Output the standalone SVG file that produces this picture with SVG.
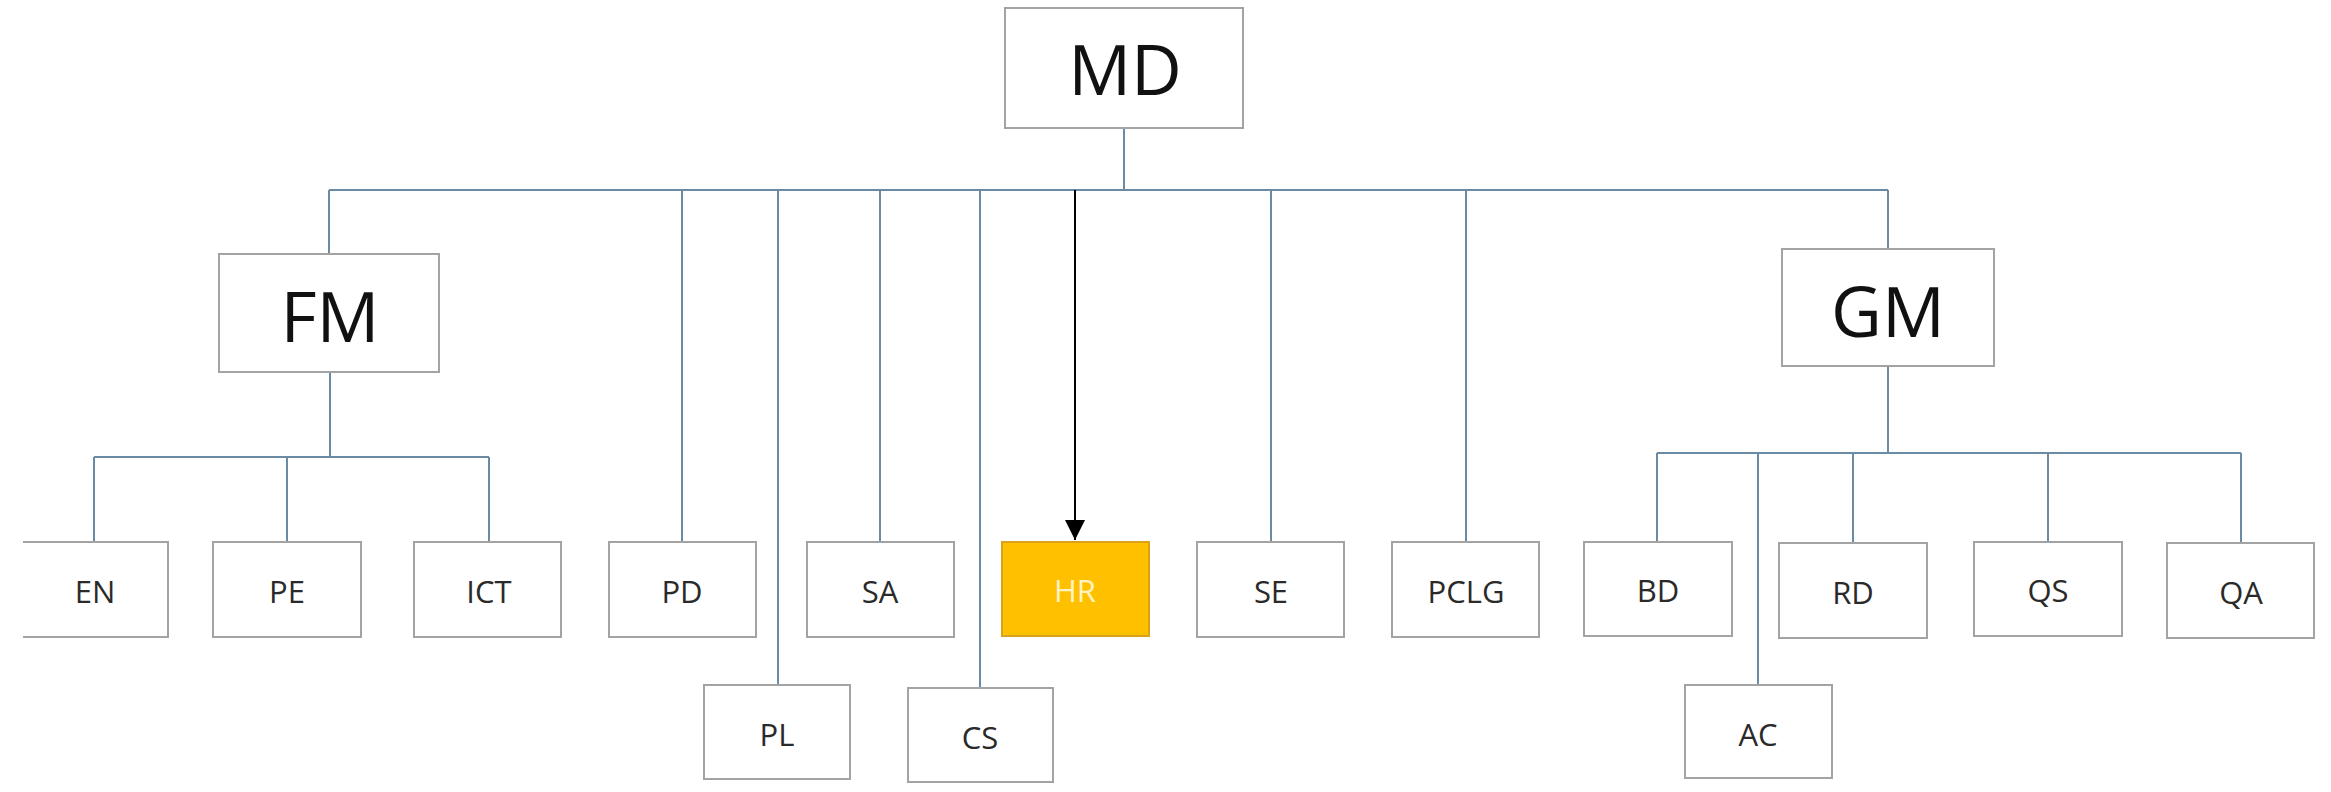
<svg xmlns="http://www.w3.org/2000/svg" width="2331" height="792" viewBox="0 0 2331 792">
  <style>
    .box{fill:#ffffff;stroke:#a3a3a3;stroke-width:2}
    .hr{fill:#ffc000;stroke:#d9a21a;stroke-width:2}
    .big{font-family:"Open Sans","Noto Sans",sans-serif;font-size:70px;fill:#111111;text-anchor:middle}
    .lbl{font-family:"Open Sans","Noto Sans",sans-serif;font-size:31px;fill:#2a2a2a;text-anchor:middle}
    .hrt{font-family:"Open Sans","Noto Sans",sans-serif;font-size:31px;fill:#fff3c4;text-anchor:middle}
    .ln{fill:none;stroke:#6b8ba4;stroke-width:2}
    .arr{fill:none;stroke:#000000;stroke-width:2}
  </style>
  <defs>
    <marker id="ah" markerUnits="userSpaceOnUse" markerWidth="20" markerHeight="22" refX="20" refY="10" orient="auto">
      <path d="M0,0 L20,10 L0,20 Z" fill="#000000"/>
    </marker>
  </defs>
  <rect width="2331" height="792" fill="#ffffff"/>

  <g id="connectors">
    <path class="ln" d="M1124,128 V190"/>
    <path class="ln" d="M329,190 H1888"/>
    <path class="ln" d="M329,190 V254"/>
    <path class="ln" d="M682,190 V542"/>
    <path class="ln" d="M778,190 V685"/>
    <path class="ln" d="M880,190 V542"/>
    <path class="ln" d="M980,190 V688"/>
    <path class="ln" d="M1271,190 V542"/>
    <path class="ln" d="M1466,190 V542"/>
    <path class="ln" d="M1888,190 V249"/>
    <path class="arr" d="M1075,190 V540" marker-end="url(#ah)"/>
    <path class="ln" d="M330,372 V457"/>
    <path class="ln" d="M94,457 H489"/>
    <path class="ln" d="M94,457 V542"/>
    <path class="ln" d="M287,457 V542"/>
    <path class="ln" d="M489,457 V542"/>
    <path class="ln" d="M1888,366 V453"/>
    <path class="ln" d="M1657,453 H2241"/>
    <path class="ln" d="M1657,453 V542"/>
    <path class="ln" d="M1758,453 V685"/>
    <path class="ln" d="M1853,453 V542"/>
    <path class="ln" d="M2048,453 V542"/>
    <path class="ln" d="M2241,453 V542"/>
  </g>

  <g id="MD"><rect class="box" x="1005" y="8" width="238" height="120"/><text class="big" x="1125" y="95">MD</text></g>
  <g id="FM"><rect class="box" x="219" y="254" width="220" height="118"/><text class="big" x="330" y="342">FM</text></g>
  <g id="GM"><rect class="box" x="1782" y="249" width="212" height="117"/><text class="big" x="1888" y="337">GM</text></g>

  <g id="EN"><rect x="23" y="542" width="145" height="95" fill="#ffffff"/><path class="box" d="M23,542 H168 V637 H23"/><text class="lbl" x="95" y="603">EN</text></g>
  <g id="PE"><rect class="box" x="213" y="542" width="148" height="95"/><text class="lbl" x="287" y="603">PE</text></g>
  <g id="ICT"><rect class="box" x="414" y="542" width="147" height="95"/><text class="lbl" x="489" y="603">ICT</text></g>
  <g id="PD"><rect class="box" x="609" y="542" width="147" height="95"/><text class="lbl" x="682" y="603">PD</text></g>
  <g id="SA"><rect class="box" x="807" y="542" width="147" height="95"/><text class="lbl" x="880" y="603">SA</text></g>
  <g id="HR"><rect class="hr" x="1002" y="542" width="147" height="94"/><text class="hrt" x="1075" y="602">HR</text></g>
  <g id="SE"><rect class="box" x="1197" y="542" width="147" height="95"/><text class="lbl" x="1271" y="603">SE</text></g>
  <g id="PCLG"><rect class="box" x="1392" y="542" width="147" height="95"/><text class="lbl" x="1466" y="603">PCLG</text></g>
  <g id="BD"><rect class="box" x="1584" y="542" width="148" height="94"/><text class="lbl" x="1658" y="602">BD</text></g>
  <g id="RD"><rect class="box" x="1779" y="543" width="148" height="95"/><text class="lbl" x="1853" y="604">RD</text></g>
  <g id="QS"><rect class="box" x="1974" y="542" width="148" height="94"/><text class="lbl" x="2048" y="602">QS</text></g>
  <g id="QA"><rect class="box" x="2167" y="543" width="147" height="95"/><text class="lbl" x="2241" y="604">QA</text></g>

  <g id="PL"><rect class="box" x="704" y="685" width="146" height="94"/><text class="lbl" x="777" y="746">PL</text></g>
  <g id="CS"><rect class="box" x="908" y="688" width="145" height="94"/><text class="lbl" x="980" y="749">CS</text></g>
  <g id="AC"><rect class="box" x="1685" y="685" width="147" height="93"/><text class="lbl" x="1758" y="746">AC</text></g>
</svg>
